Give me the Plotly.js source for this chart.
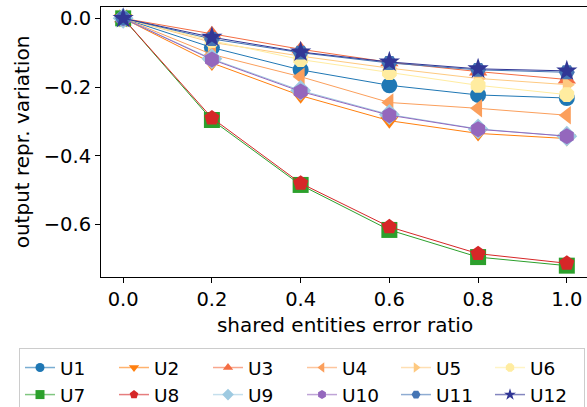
<!DOCTYPE html>
<html>
<head>
<meta charset="utf-8">
<script src="https://cdn.plot.ly/plotly-3.0.1.min.js"></script>
<style>
html,body{margin:0;padding:0;overflow:hidden;background:#fff;width:587px;height:407px;}
#chart{width:589px;height:407px;}
</style>
</head>
<body>
<div id="chart"></div>
<script>
const ratio = [0.0, 0.2, 0.4, 0.6, 0.8, 1.0];
const names = ["U1","U2","U3","U4","U5","U6","U7","U8","U9","U10","U11","U12"];
const U1  = [0, -0.085, -0.150, -0.195, -0.223, -0.232];
const U2  = [0, -0.130, -0.225, -0.298, -0.335, -0.350];
const U3  = [0, -0.045, -0.090, -0.128, -0.155, -0.178];
const U4  = [0, -0.105, -0.170, -0.245, -0.262, -0.282];
const U5  = [0, -0.070, -0.110, -0.145, -0.175, -0.193];
const U6  = [0, -0.065, -0.120, -0.158, -0.195, -0.222];
const U7  = [0, -0.296, -0.485, -0.616, -0.695, -0.720];
const U8  = [0, -0.290, -0.480, -0.607, -0.685, -0.713];
const U9  = [0, -0.118, -0.210, -0.280, -0.322, -0.343];
const U10 = [0, -0.120, -0.213, -0.282, -0.323, -0.343];
const U11 = [0, -0.060, -0.100, -0.130, -0.150, -0.157];
const U12 = [0, -0.055, -0.098, -0.127, -0.147, -0.153];
const series = [U1,U2,U3,U4,U5,U6,U7,U8,U9,U10,U11,U12];
const colors = ["#1f77b4","#ff7f0e","#f46d43","#fb9f5c","#fec980","#ffeca0","#2ca02c","#d62728","#9ecae1","#9467bd","#4575b4","#313695"];
const symbols = ["circle","triangle-down","triangle-up","triangle-left","triangle-right","octagon","square","pentagon","diamond","hexagon","hexagon2","star"];

function rgba(hex, a){
  const r=parseInt(hex.slice(1,3),16), g=parseInt(hex.slice(3,5),16), b=parseInt(hex.slice(5,7),16);
  return `rgba(${r},${g},${b},${a})`;
}

const traces = [];
series.forEach((ys,i)=>{
  traces.push({
    x: ratio, y: ys, type:"scatter", mode:"lines+markers", showlegend:false,
    line:{color:colors[i], width:1},
    marker:{symbol:symbols[i], size:16, color:colors[i], line:{width:0}},
    hoverinfo:"skip"
  });
});
// legend entries
series.forEach((ys,i)=>{
  traces.push({
    x:[null], y:[null], type:"scatter", mode:"lines+markers", name:names[i], showlegend:true,
    line:{color:rgba(colors[i],0.6), width:1.5},
    marker:{symbol:symbols[i], size:9, color:colors[i], line:{width:0}}
  });
});

const W = 589, H = 407, ML = 101, MT = 7, MB = 130;
const plotW = W - ML, plotH = H - MT - MB;
const font = {family:"DejaVu Sans", size:20, color:"#000"};
const tfont = {family:"DejaVu Sans", size:19.5, color:"#000"};
const lfont = {family:"DejaVu Sans", size:18.5, color:"#000"};
const layout = {
  width:W, height:H, autosize:false,
  margin:{l:ML, r:0, t:MT, b:MB, autoexpand:false},
  paper_bgcolor:"#fff", plot_bgcolor:"#fff",
  font:font,
  showlegend:true,
  xaxis:{
    range:[-0.05,1.05], tickvals:ratio, tickformat:".1f",
    showline:true, linecolor:"#000", linewidth:1, mirror:true,
    ticks:"outside", ticklen:5, tickcolor:"#000", tickwidth:1,
    showgrid:false, zeroline:false, tickfont:tfont,
    title:{text:"shared entities error ratio", font:font, standoff:7}
  },
  yaxis:{
    range:[-0.753,0.033], tickvals:[-0.6,-0.4,-0.2,0.0], tickformat:".1f",
    showline:true, linecolor:"#000", linewidth:1, mirror:true,
    ticks:"outside", ticklen:5, tickcolor:"#000", tickwidth:1,
    showgrid:false, zeroline:false, tickfont:tfont,
    title:{text:"output repr. variation", font:font, standoff:8}
  },
  legend:{
    orientation:"h", xref:"paper", yref:"paper",
    x:(19-ML)/plotW, y:((H-MB)-348)/plotH, xanchor:"left", yanchor:"top",
    bordercolor:"#cccccc", borderwidth:1, bgcolor:"#fff",
    font:lfont, entrywidth:49, entrywidthmode:"pixels",
    tracegroupgap:0
  }
};
Plotly.newPlot("chart", traces, layout, {displayModeBar:false, responsive:false, staticPlot:true});
</script>
</body>
</html>
